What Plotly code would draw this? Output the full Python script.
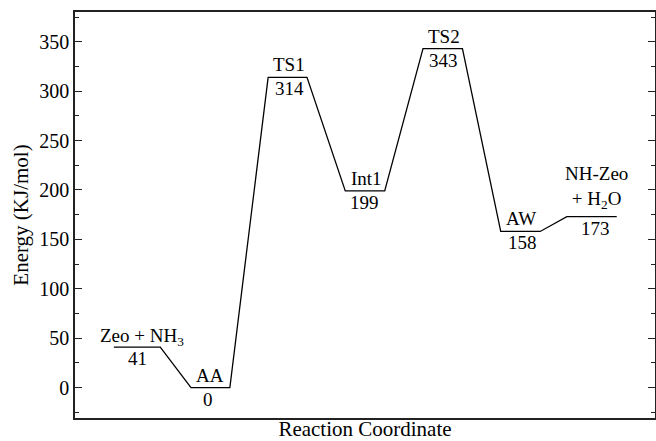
import plotly.graph_objects as go

# ---- data ----
state_labels = ["Zeo + NH<sub>3</sub>", "AA", "TS1", "Int1", "TS2", "AW", "NH-Zeo<br>+ H<sub>2</sub>O"]
energies = [41, 0, 314, 199, 343, 158, 173]
level_start = [0.67, 2.00, 3.33, 4.66, 6.00, 7.34, 8.48]
level_end = [1.47, 2.67, 4.00, 5.34, 6.68, 8.02, 9.34]
label_xshift = [5, 0, 1, 1, 1, 1, 5]
label_yshift = [-4, 0, 0, 0, 0, 0, 3]
value_xshift = [0, -2, 2, -1, 1, 2, 4]

y_ticks = [0, 50, 100, 150, 200, 250, 300, 350]

FONT = "Liberation Serif, Times New Roman, serif"

# path through all levels
xs, ys = [], []
for s, e, v in zip(level_start, level_end, energies):
    xs += [s, e]
    ys += [v, v]

fig = go.Figure()
fig.add_trace(go.Scatter(x=xs, y=ys, mode="lines",
                         line=dict(color="black", width=1.3),
                         hoverinfo="skip", showlegend=False))

annotations = []
for lab, v, s, e, lx, ly, vx in zip(state_labels, energies, level_start, level_end,
                                    label_xshift, label_yshift, value_xshift):
    c = (s + e) / 2
    annotations.append(dict(x=c, y=v, text=lab, showarrow=False,
                            xanchor="center", yanchor="bottom", yshift=1 + ly, xshift=lx,
                            borderpad=0, font=dict(family=FONT, size=19, color="black")))
    annotations.append(dict(x=c, y=v, text=str(v), showarrow=False,
                            xanchor="center", yanchor="top", yshift=0, xshift=vx,
                            borderpad=0, font=dict(family=FONT, size=19, color="black")))

fig.update_layout(
    width=656, height=441,
    margin=dict(l=75, r=1, t=12, b=23),
    paper_bgcolor="white", plot_bgcolor="white",
    font=dict(family=FONT, size=20, color="black"),
    annotations=annotations,
    showlegend=False,
)
fig.update_xaxes(range=[0, 10], showgrid=False, zeroline=False,
                 showline=True, linecolor="#222", linewidth=1.5, mirror=True,
                 ticks="", showticklabels=False,
                 title=dict(text="Reaction Coordinate", standoff=7,
                            font=dict(family=FONT, size=21)),
                 automargin=False)
fig.update_yaxes(range=[-30.8, 380.1], showgrid=False, zeroline=False,
                 showline=True, linecolor="#222", linewidth=1.5, mirror="ticks",
                 tickvals=y_ticks, ticks="inside", ticklen=7, tickwidth=1.3, tickcolor="#222",
                 minor=dict(dtick=25, tick0=0, ticks="inside", ticklen=4, tickwidth=1.2, tickcolor="#222"),
                 tickfont=dict(family=FONT, size=20),
                 title=dict(text="Energy (KJ/mol)", standoff=5,
                            font=dict(family=FONT, size=21)),
                 automargin=False)

fig.write_html("out.html", config={"displayModeBar": False},
               post_script="document.body.style.margin='0';document.body.style.overflow='hidden';")
